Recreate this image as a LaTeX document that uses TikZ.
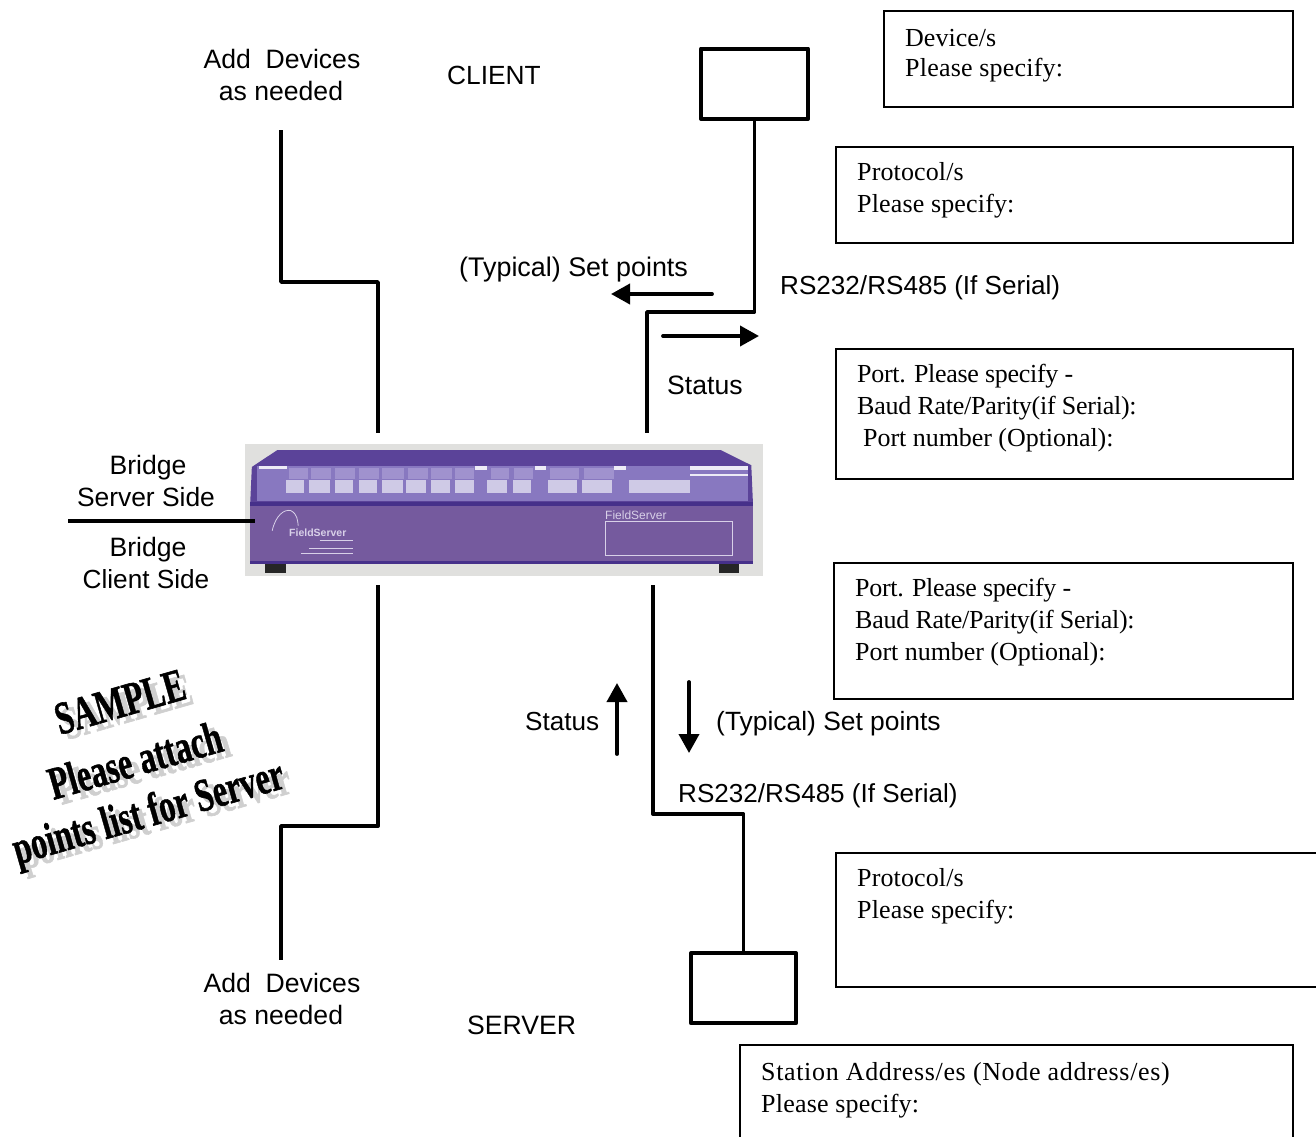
\documentclass[tikz,border=0pt]{standalone}
\usepackage{fontspec}
\setmainfont{Liberation Sans}
\newfontfamily\serifface{Liberation Serif}
\newfontfamily\stampface[FakeBold=1.2]{Liberation Serif Bold}
\usetikzlibrary{arrows.meta}
\definecolor{lid}{HTML}{5B4399}
\definecolor{front}{HTML}{755A9E}
\definecolor{panel}{HTML}{8878C0}
\definecolor{rowc}{HTML}{A092CE}
\definecolor{keyc}{HTML}{CFCAE6}
\definecolor{edge}{HTML}{46308A}
\definecolor{devbg}{HTML}{E0E0DE}
\definecolor{devtxt}{HTML}{D8D0E8}
\newcommand{\spaced}[1]{\addfontfeature{LetterSpace=#1}}
\tikzset{
  x=1pt,y=-1pt,
  wire/.style={line width=3.8pt,line join=round,line cap=butt},
  flow/.style={line width=3.8pt,line cap=round,-{Triangle[length=19pt,width=20pt]}},
  infobox/.style={draw,line width=1.6pt,anchor=north west,inner sep=0pt,outer sep=0pt},
  termbox/.style={draw,line width=4.4pt,line join=round,anchor=north west,inner sep=0pt,outer sep=0pt},
  sanslabel/.style={font=\fontsize{26.6}{26.6}\selectfont,anchor=base west,inner sep=0pt},
  sanscenter/.style={font=\fontsize{26.6}{26.6}\selectfont,anchor=base,inner sep=0pt},
  seriflabel/.style={font=\serifface\fontsize{26}{26}\selectfont,anchor=base west,inner sep=0pt},
  stamp/.style={font=\stampface\fontsize{32}{32}\selectfont,anchor=center,inner sep=0pt,rotate=16,yscale=1.45},
  stampshadow/.style={stamp,text=gray!38},
  keyrect/.style={fill=keyc,draw=none},
  rowrect/.style={fill=rowc,draw=none},
}
\begin{document}
\begin{tikzpicture}
\useasboundingbox (0,0) rectangle (1316,1136);
\fill[white] (0,0) rectangle (1316,1136);

% device picture
\begin{scope}[shift={(240,435)},x=.3386pt,y=-.336pt]
  \fill[devbg] (15,27) rectangle (1545,420);
  \fill[black!85] (75,375) rectangle (135,410);
  \fill[black!85] (1415,375) rectangle (1475,410);
  \fill[lid] (110,45) -- (1420,45) -- (1510,90) -- (1515,205) -- (30,205) -- (35,95) -- cycle;
  \fill[panel] (50,92) rectangle (1500,195);
  \fill[front] (30,205) rectangle (1515,378);
  \fill[edge] (30,198) rectangle (1515,210);
  \fill[edge] (30,374) rectangle (1515,384);
  \foreach \a/\b in {145/200,210/270,280/340,350/410,420/485,495/555,565/625,635/690,740/795,810/865,915/1000,1015/1105}
    \fill[rowrect] (\a,97) rectangle (\b,130);
  \fill[white!85!panel] (55,93) rectangle (140,100);
  \fill[white!85!panel] (1330,93) rectangle (1500,104);
  \fill[white!85!panel] (1330,116) rectangle (1500,122);
  \fill[white!85!panel] (695,93) rectangle (730,105);
  \fill[white!85!panel] (870,93) rectangle (905,105);
  \fill[white!85!panel] (1105,93) rectangle (1140,105);
  \foreach \a/\b in {135/190,205/265,280/335,350/405,420/480,490/550,565/620,635/690,730/790,805/860,910/995,1010/1100,1150/1330}
    \fill[keyrect] (\a,135) rectangle (\b,172);
  \draw[devtxt,line width=.8pt] (1080,258) rectangle (1455,358);
  \draw[devtxt,line width=.8pt] (95,285) .. controls (105,240) and (130,220) .. (150,225) .. controls (170,235) and (170,255) .. (172,270);
  \draw[devtxt,line width=.9pt] (235,313) -- (335,313);
  \draw[devtxt,line width=.9pt] (205,338) -- (335,338);
  \draw[devtxt,line width=.9pt] (180,353) -- (335,353);
\end{scope}
\node[text=devtxt,font=\bfseries\fontsize{10.5}{10.5}\selectfont,anchor=base west,inner sep=0pt] (logo) at (289,536) {FieldServer};
\node[text=devtxt,font=\fontsize{12}{12}\selectfont,anchor=base west,inner sep=0pt] (brand) at (605,519) {FieldServer};
\coordinate (devNW) at (378,433);
\coordinate (devNE) at (647,433);
\coordinate (devSW) at (378,585);
\coordinate (devSE) at (653,585);
\coordinate (devW) at (255,521);

% terminal boxes
\node[termbox,minimum width=106.6pt,minimum height=70.2pt] (clientdev) at (701.2,48.7) {};
\node[termbox,minimum width=104.8pt,minimum height=70pt] (serverdev) at (691.1,953.2) {};

% information boxes
\node[infobox,minimum width=409pt,minimum height=96pt] (boxA) at (884,11) {};
\node[infobox,minimum width=457pt,minimum height=96pt] (boxB) at (836,147) {};
\node[infobox,minimum width=457pt,minimum height=130pt] (boxC) at (836,349) {};
\node[infobox,minimum width=459pt,minimum height=136pt] (boxD) at (834,563) {};
\node[infobox,minimum width=490pt,minimum height=134pt] (boxE) at (836,853) {};
\node[infobox,minimum width=553pt,minimum height=100pt] (boxF) at (740,1045) {};

% connectors
\coordinate (addTop) at (281,130);
\coordinate (addBot) at (281,960);
\draw[wire] (addTop) -- (281,282) -- (378,282) -- (devNW);
\draw[wire] (devSW) -- (378,826) -- (281,826) -- (addBot);
\coordinate (cjog) at (647,312);
\coordinate (sjog) at (653,814);
\draw[wire] (clientdev.south) |- (cjog) -- (devNE);
\draw[wire] (serverdev.north) |- (sjog) -- (devSE);
\coordinate (sideL) at (68,521);
\draw[wire] (sideL) -- (devW);

% flow arrows
\coordinate (a1s) at (712,294); \coordinate (a1e) at (611,294);
\coordinate (a2s) at (663,336); \coordinate (a2e) at (759,336);
\coordinate (a3s) at (617,754); \coordinate (a3e) at (617,683);
\coordinate (a4s) at (689,682); \coordinate (a4e) at (689,753);
\draw[flow] (a1s) -- (a1e);
\draw[flow] (a2s) -- (a2e);
\draw[flow] (a3s) -- (a3e);
\draw[flow] (a4s) -- (a4e);

% sans labels
\node[sanscenter] (t1) at (282,68) {Add\ \ Devices};
\node[sanscenter] (t2) at (281,100) {as needed};
\node[sanslabel,font=\fontsize{26.3}{26.3}\selectfont] (t3) at (447,84) {CLIENT};
\node[sanslabel,font=\fontsize{26.9}{26.9}\selectfont] (t4) at (459,276) {(Typical) Set points};
\node[sanslabel,font=\fontsize{26.1}{26.1}\selectfont] (t5) at (780,294) {RS232/RS485 (If Serial)};
\node[sanslabel] (t6) at (667,394) {Status};
\node[sanscenter] (t7) at (148,474) {Bridge};
\node[sanscenter,font=\fontsize{26.4}{26.4}\selectfont] (t8) at (146,506) {Server Side};
\node[sanscenter] (t9) at (148,556) {Bridge};
\node[sanscenter,font=\fontsize{26.2}{26.2}\selectfont] (t10) at (146,588) {Client Side};
\node[sanslabel,font=\fontsize{26.1}{26.1}\selectfont] (t11) at (525,730) {Status};
\node[sanslabel,font=\fontsize{26.4}{26.4}\selectfont] (t12) at (716,730) {(Typical) Set points};
\node[sanslabel,font=\fontsize{26.05}{26.05}\selectfont] (t13) at (678,802) {RS232/RS485 (If Serial)};
\node[sanscenter] (t14) at (282,992) {Add\ \ Devices};
\node[sanscenter] (t15) at (281,1024) {as needed};
\node[sanslabel] (t16) at (467,1034) {SERVER};

% serif labels
\node[seriflabel] (s1) at (905,46) {Device/s};
\node[seriflabel] (s2) at (905,76) {\spaced{0.8}Please specify:};
\node[seriflabel] (s3) at (857,180) {\spaced{0.5}Protocol/s};
\node[seriflabel] (s4) at (857,212) {\spaced{0.6}Please specify:};
\node[seriflabel] (s5) at (857,382) {\spaced{-1.2}Port. Please specify -};
\node[seriflabel] (s6) at (857,414) {\spaced{-1}Baud Rate/Parity(if Serial):};
\node[seriflabel] (s7) at (863,446) {\spaced{-0.2}Port number (Optional):};
\node[seriflabel] (s8) at (855,596) {\spaced{-1.2}Port. Please specify -};
\node[seriflabel] (s9) at (855,628) {\spaced{-1}Baud Rate/Parity(if Serial):};
\node[seriflabel] (s10) at (855,660) {\spaced{-0.2}Port number (Optional):};
\node[seriflabel] (s11) at (857,886) {\spaced{0.5}Protocol/s};
\node[seriflabel] (s12) at (857,918) {\spaced{0.6}Please specify:};
\node[seriflabel] (s13) at (761,1080) {\spaced{2.5}Station Address/es (Node address/es)};
\node[seriflabel] (s14) at (761,1112) {\spaced{0.8}Please specify:};

% stamp
\node[stampshadow] (w1b) at (127,707) {SAMPLE};
\node[stampshadow] (w2b) at (143,765) {Please attach};
\node[stampshadow] (w3b) at (156,820) {points list for Server};
\node[stamp] (w1) at (120,702) {SAMPLE};
\node[stamp] (w2) at (135,760) {Please attach};
\node[stamp] (w3) at (149,815) {points list for Server};
\end{tikzpicture}
\end{document}
